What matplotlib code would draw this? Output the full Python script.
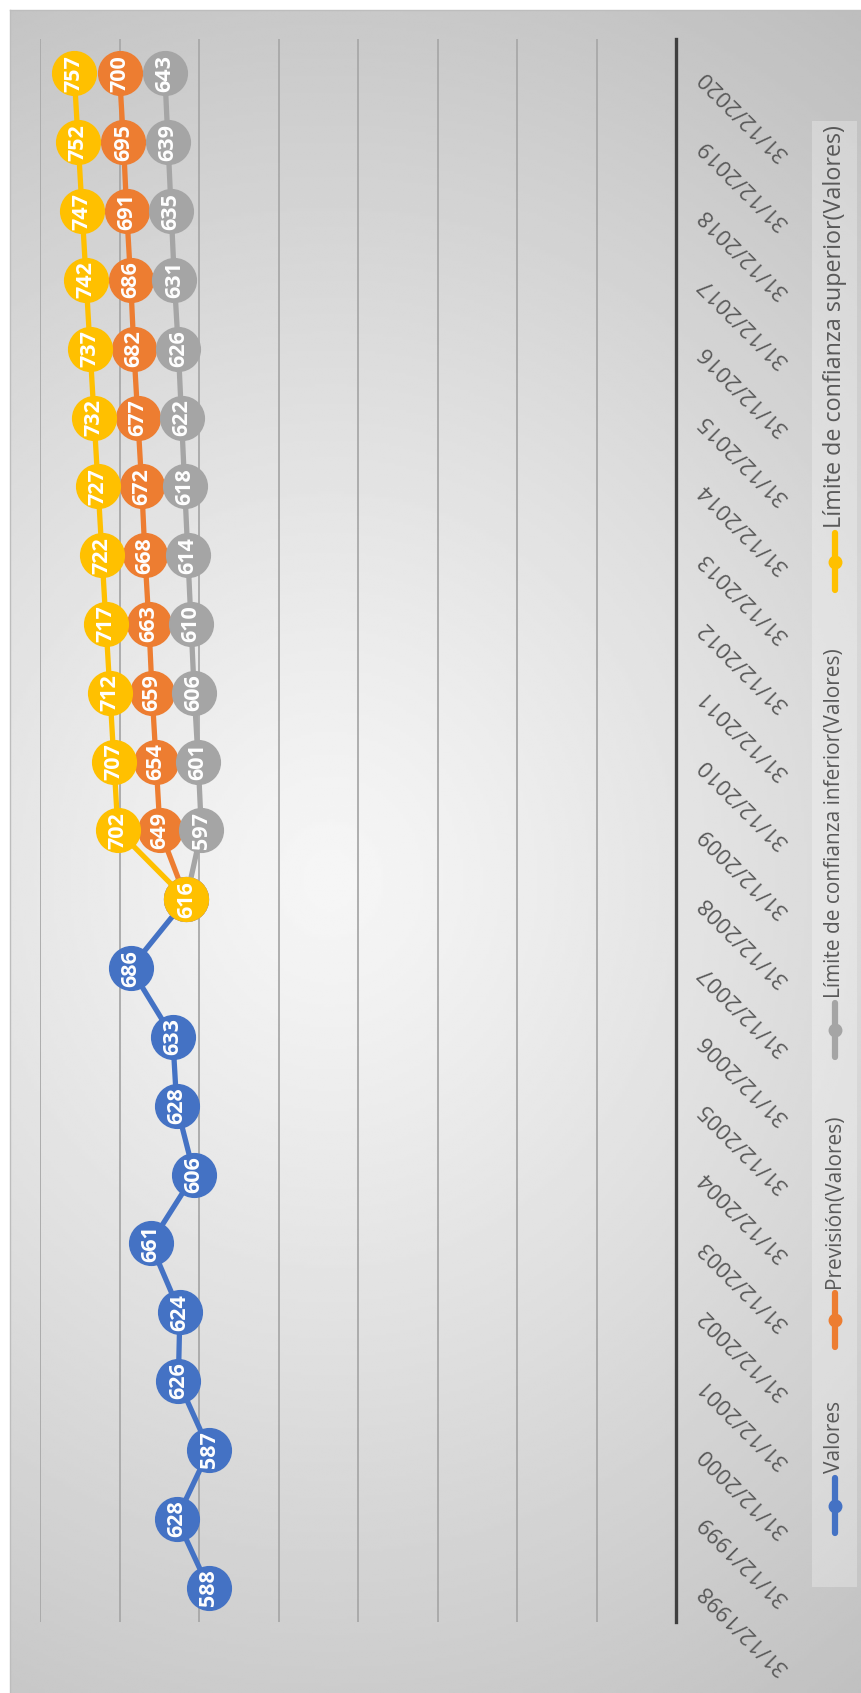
import numpy as np
import matplotlib
matplotlib.use("Agg")
import matplotlib.pyplot as plt
from matplotlib.transforms import blended_transform_factory
from matplotlib.patches import Rectangle

plt.rcParams['font.family'] = ['Open Sans', 'DejaVu Sans']

# ---- data ----
dates = ["31/12/1998", "31/12/1999", "31/12/2000", "31/12/2001", "31/12/2002",
         "31/12/2003", "31/12/2004", "31/12/2005", "31/12/2006", "31/12/2007",
         "31/12/2008", "31/12/2009", "31/12/2010", "31/12/2011", "31/12/2012",
         "31/12/2013", "31/12/2014", "31/12/2015", "31/12/2016", "31/12/2017",
         "31/12/2018", "31/12/2019", "31/12/2020"]
valores = [588, 628, 587, 626, 624, 661, 606, 628, 633, 686, 616]
prevision = [616, 649, 654, 659, 663, 668, 672, 677, 682, 686, 691, 695, 700]
lim_inferior = [616, 597, 601, 606, 610, 614, 618, 622, 626, 631, 635, 639, 643]
lim_superior = [616, 702, 707, 712, 717, 722, 727, 732, 737, 742, 747, 752, 757]
value_ticks = [0, 100, 200, 300, 400, 500, 600, 700, 800]

series_names = ["Valores", "Previsión(Valores)",
                "Límite de confianza inferior(Valores)",
                "Límite de confianza superior(Valores)"]
colors = ["#4472C4", "#ED7D31", "#A5A5A5", "#FFC000"]

pos_all = np.arange(len(dates))
pos_hist = pos_all[:len(valores)]
pos_fc = pos_all[len(valores) - 1:]

W, H = 862, 1693
fig = plt.figure(figsize=(W / 100, H / 100), dpi=100)
fig.patch.set_facecolor("white")

# ---- background (chart area with radial gradient) ----
bg = fig.add_axes([0, 0, 1, 1])
bg.set_xlim(0, W)
bg.set_ylim(H, 0)
bg.axis("off")
gx = np.linspace(10, W, 300)
gy = np.linspace(10, H, 600)
GX, GY = np.meshgrid(gx, gy)
d = np.sqrt(((GX - 330) / 900) ** 2 + ((GY - 880) / 1000) ** 2)
shade = 0.965 - 0.21 * d ** 1.15
bg.imshow(shade, cmap="gray", vmin=0, vmax=1, extent=(10, W, H, 10),
          aspect="auto", interpolation="bilinear", zorder=0)
bg.plot([10, 10], [10, H], color="#bdbdbd", lw=1, zorder=1)
bg.plot([10, W], [10, 10], color="#bdbdbd", lw=1, zorder=1)

# legend panel
bg.add_patch(Rectangle((812, 121), 45, 1466, facecolor="white", alpha=0.28,
                       edgecolor="none", zorder=1))

# ---- plot area ----
top_px, bot_px, left_px, right_px = 39, 1622, 40, 676
ax = fig.add_axes([left_px / W, 1 - bot_px / H, (right_px - left_px) / W,
                   (bot_px - top_px) / H])
ax.patch.set_visible(False)
ax.set_xlim(value_ticks[-1], value_ticks[0])
ax.set_ylim(-0.5, len(dates) - 0.5)
ax.set_xticks(value_ticks[1:])
ax.set_yticks([])
ax.xaxis.grid(True, color="#a8a8a8", lw=1.3)
ax.set_axisbelow(True)
ax.tick_params(length=0, labelbottom=False, labelleft=False)
for s in ["top", "bottom", "left"]:
    ax.spines[s].set_visible(False)
ax.spines["right"].set_color("#3f3f3f")
ax.spines["right"].set_linewidth(2.4)

series = [(valores, pos_hist), (prevision, pos_fc),
          (lim_inferior, pos_fc), (lim_superior, pos_fc)]
for k, ((vals, pos), col) in enumerate(zip(series, colors)):
    ax.plot(vals, pos, color=col, lw=3.8, marker="o", ms=31.5, mec=col,
            mfc=col, zorder=3 + k, solid_capstyle="round")

# data labels (the shared joining point is labelled once, on the top series)
for k, (vals, pos) in enumerate(series):
    for v, p in zip(vals, pos):
        if k < 3 and p == pos_fc[0]:
            continue
        ax.text(v, p, str(v), rotation=90, ha="center", va="center",
                color="white", fontsize=15.5, fontweight="bold", zorder=20)

# date labels along the category axis
trans = blended_transform_factory(ax.transAxes, ax.transData)
xlab = (702 - left_px) / (right_px - left_px)
for p, lab in zip(pos_all, dates):
    ax.text(xlab, p, lab, transform=trans, rotation=135, rotation_mode="anchor",
            ha="right", va="center", color="#595959", fontsize=16,
            clip_on=False)

# ---- legend ----
legend_rows = [(1478, 1533), (1293, 1347), (1003, 1057), (533, 590)]
legend_sizes = [15, 15, 15, 16.8]
for name, col, (y1, y2), fs in zip(series_names, colors, legend_rows,
                                   legend_sizes):
    bg.plot([835, 835], [y1, y2], color=col, lw=4.5, solid_capstyle="round",
            zorder=2)
    bg.plot([835], [(y1 + y2) / 2], marker="o", ms=9, color=col, zorder=3)
    bg.text(835, y1 - 5, name, rotation=90, rotation_mode="anchor",
            ha="left", va="center", color="#595959", fontsize=fs, zorder=3)

fig.savefig("out.png", dpi=100)
